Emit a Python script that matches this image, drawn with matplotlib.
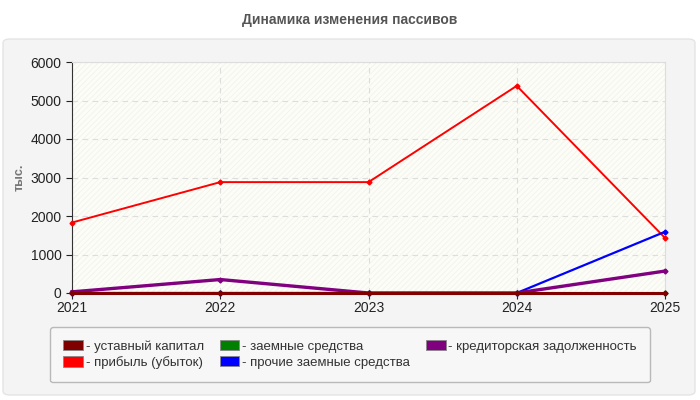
import matplotlib
matplotlib.use("Agg")
import matplotlib.pyplot as plt
from matplotlib.patches import FancyBboxPatch, Patch

years = [2021, 2022, 2023, 2024, 2025]
ustavnyi = [10, 10, 10, 10, 10]
pribyl = [1830, 2880, 2880, 5380, 1430]
zaemnye = [0, 0, 0, 0, 0]
prochie = [0, 0, 0, 0, 1590]
kreditor = [30, 350, 0, 0, 570]

series = [
    ("- уставный капитал", ustavnyi, "#800000", 2.2),
    ("- прибыль (убыток)", pribyl, "#ff0000", 1.4),
    ("- заемные средства", zaemnye, "#008000", 2.2),
    ("- прочие заемные средства", prochie, "#0000ff", 1.6),
    ("- кредиторская задолженность", kreditor, "#800080", 2.4),
]

plt.rcParams['font.family'] = ['Liberation Sans', 'DejaVu Sans']
plt.rcParams['hatch.linewidth'] = 0.6

fig = plt.figure(figsize=(7, 4), dpi=100)
fig.patch.set_facecolor("white")

# gray rounded panel behind everything
panel = FancyBboxPatch((3 / 700, 5 / 400), 692 / 700, 356 / 400,
                       boxstyle="round,pad=0,rounding_size=0.01",
                       transform=fig.transFigure, facecolor="#f4f4f4",
                       edgecolor="#e4e4e4", linewidth=1, zorder=-10)
fig.patches.append(panel)

fig.text(0.5, 1 - 20 / 400, "Динамика изменения пассивов", ha="center", va="center",
         fontsize=10, fontweight="bold", color="#555555")
fig.text(20 / 700, 1 - 177 / 400, "тыс.", rotation=90, ha="center", va="center",
         fontsize=9, fontweight="bold", color="#777777")

ax = fig.add_axes([72 / 700, 1 - 293 / 400, 593 / 700, 231 / 400])
ax.set_zorder(2)
ax.set_facecolor("#fdfdf8")
ax.fill_between([2021, 2025], 0, 6000, facecolor="none", hatch="//////",
                edgecolor="#f2f2ee", linewidth=0, zorder=0)

# draw order: green hidden underneath, dark red on top
order = [2, 1, 3, 4, 0]
for z, i in enumerate(order):
    label, vals, color, lw = series[i]
    ax.plot(years, vals, color=color, linewidth=lw, marker="D", markersize=2.5,
            zorder=3 + z, clip_on=False)

ax.set_xlim(2021, 2025)
ax.set_ylim(0, 6000)
ax.set_xticks(years)
ax.set_yticks(range(0, 6001, 1000))
ax.grid(True, color="#dddddd", linestyle=(0, (5, 4)), linewidth=0.8)
ax.set_axisbelow(True)
for s in ["top", "right"]:
    ax.spines[s].set_color("#dddddd")
for s in ["left", "bottom"]:
    ax.spines[s].set_color("#333333")
ax.tick_params(axis="both", labelsize=10, colors="#222222", length=4)
ax.tick_params(axis="x", pad=2)

handles = [Patch(facecolor=c, edgecolor="#888888", linewidth=0.6) for _, _, c, _ in series]
labels = [l for l, _, _, _ in series]
leg = fig.legend(handles, labels, ncol=3, loc="upper left",
                 bbox_to_anchor=(50 / 700, 1 - 327 / 400),
                 fontsize=9.5, frameon=True, handlelength=1.5,
                 handleheight=0.8, handletextpad=0.2, labelspacing=0.25,
                 columnspacing=1.2, borderaxespad=0, borderpad=1.0, fancybox=True)
leg.get_frame().set_facecolor("#f8f8f8")
leg.get_frame().set_edgecolor("#aaaaaa")
for t in leg.get_texts():
    t.set_color("#333333")

fig.savefig("out.png", dpi=100)
